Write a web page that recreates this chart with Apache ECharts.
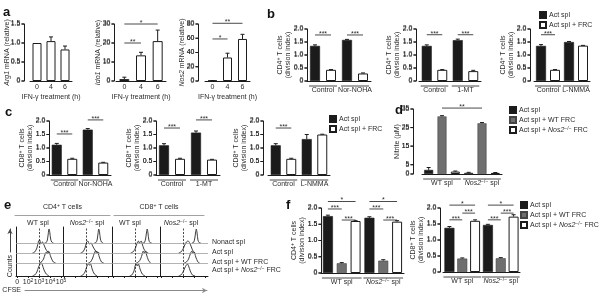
<!DOCTYPE html>
<html>
<head>
<meta charset="utf-8">
<script src="https://cdn.jsdelivr.net/npm/echarts@6/dist/echarts.min.js"></script>
<style>
  html, body { margin: 0; background: #fff; }
  #fig { width: 600px; height: 294px; }
</style>
</head>
<body>
<div id="fig"></div>
<script>
// ---- panel a: mRNA after IFN-g (relative) ----
const ifnHours = ['0', '4', '6'];
const arg1Mean = [1.0, 1.05, 0.83];
const arg1Err = [0, 0.11, 0.09];
const ido1Mean = [1.0, 13.5, 21.0];
const ido1Err = [1.0, 1.6, 5.8];
const nos2Mean = [0.4, 33, 59];
const nos2Err = [0.2, 6, 6.5];
const arg1Ticks = [0, 0.5, 1, 1.5];
const ido1Ticks = [0, 10, 20, 30];
const nos2Ticks = [0, 20, 40, 60, 80];
const ido1Sig = [[0, 1, 20, '**'], [0, 2, 30, '*']];
const nos2Sig = [[0, 2, 81, '**'], [0, 1, 59, '*']];

// ---- panels b, c: division index, bars per group = [Act spl, Act spl + FRC] ----
const bars4 = ['c0', 'c1', 'c2', 'c3'];
const divTicks = [0, 0.5, 1, 1.5, 2];
const groupsNor = ['Control', 'Nor-NOHA'];
const groupsMt = ['Control', '1-MT'];
const groupsNmma = ['Control', 'L-NMMA'];
const cd4Nor = [1.35, 0.43, 1.58, 0.29];
const cd4NorErr = [0.04, 0.01, 0.02, 0.02];
const cd4Mt = [1.35, 0.43, 1.57, 0.38];
const cd4MtErr = [0.04, 0.01, 0.04, 0.03];
const cd4Nmma = [1.35, 0.43, 1.5, 1.36];
const cd4NmmaErr = [0.05, 0.01, 0.02, 0.01];
const cd8Nor = [1.12, 0.6, 1.68, 0.46];
const cd8NorErr = [0.05, 0.02, 0.04, 0.01];
const cd8Mt = [1.1, 0.6, 1.57, 0.57];
const cd8MtErr = [0.06, 0.02, 0.06, 0.01];
const cd8Nmma = [1.1, 0.6, 1.33, 1.5];
const cd8NmmaErr = [0.06, 0.02, 0.17, 0.01];
const cd4NorSig = [[0, 1, 1.77, '***'], [2, 3, 1.77, '***']];
const cd4MtSig = [[0, 1, 1.78, '***'], [2, 3, 1.78, '***']];
const cd4NmmaSig = [[0, 1, 1.78, '***']];
const cd8NorSig = [[0, 1, 1.52, '***'], [2, 3, 2.04, '***']];
const cd8MtSig = [[0, 1, 1.74, '***'], [2, 3, 2.04, '***']];
const cd8NmmaSig = [[0, 1, 1.74, '***']];

// ---- panel d: nitrite, bars per group = [Act spl, + WT FRC, + Nos2-/- FRC] ----
const bars6 = ['c0', 'c1', 'c2', 'c3', 'c4', 'c5'];
const splGroups = ['WT spl', 'Nos2-/- spl'];
const nitrite = [2.2, 31, 1.3, 0.6, 27.3, 0.6];
const nitriteErr = [1.3, 0.4, 0.3, 0.3, 0.4, 0.2];
const nitriteTicks = [0, 5, 15, 25, 35];
const nitriteSig = [[1, 4, 35.5, '**']];

// ---- panel f ----
const fCd4 = [1.75, 0.3, 1.6, 1.7, 0.38, 1.58];
const fCd4Err = [0.03, 0.02, 0.01, 0.03, 0.03, 0.03];
const fCd8 = [1.38, 0.42, 1.6, 1.47, 0.43, 1.73];
const fCd8Err = [0.04, 0.02, 0.03, 0.02, 0.02, 0.06];
const fCd4Sig = [[0, 2, 2.2, '*'], [0, 1, 1.97, '***'], [1, 2, 1.63, '***'],
                 [3, 5, 2.2, '*'], [3, 4, 1.97, '***'], [4, 5, 1.63, '***']];
const fCd8Sig = [[0, 2, 2.09, '*'], [1, 2, 1.84, '***'], [0, 1, 1.63, '***'],
                 [3, 5, 2.09, '*'], [4, 5, 1.84, '***'], [3, 4, 1.63, '***']];

// ---- panel e: CFSE histograms [log10 CFSE, height], order nonact / act / +WT FRC / +Nos2 FRC ----
const eTracks = ['Nonact spl', 'Act spl', 'Act spl + WT FRC', 'Act spl + Nos2-/- FRC'];
const eBase = [33, 23, 13, 0];
const eLabelAt = [34, 24, 14, 6];
const cfseTicks = [1, 2, 3, 4, 5];
const cd4WtCurves = [
  [[3.5,0],[3.65,0.5],[3.75,3],[3.83,9],[3.9,14],[3.97,11],[4.05,4],[4.15,1],[4.3,0]],
  [[2.4,0],[2.6,1],[2.8,5],[2.95,12],[3.05,13],[3.15,9],[3.3,11],[3.45,8],[3.6,4],[3.8,1],[4.0,0]],
  [[3.0,0],[3.2,1],[3.4,4],[3.55,9],[3.65,11],[3.75,9],[3.85,12],[3.95,10],[4.1,5],[4.3,1],[4.5,0]],
  [[2.4,0],[2.6,1],[2.8,4],[2.95,9],[3.1,12],[3.2,13],[3.3,11],[3.45,6],[3.65,2],[3.9,0]]
];
const cd4NosCurves = [
  [[3.75,0],[3.9,0.5],[4.0,3],[4.08,9],[4.15,14],[4.22,11],[4.3,4],[4.4,1],[4.55,0]],
  [[2.5,0],[2.7,1],[2.9,5],[3.05,11],[3.15,12],[3.3,9],[3.45,10],[3.6,7],[3.8,3],[4.0,1],[4.2,0]],
  [[3.2,0],[3.4,1],[3.6,5],[3.75,10],[3.85,12],[3.95,10],[4.05,11],[4.2,6],[4.4,1],[4.6,0]],
  [[2.5,0],[2.7,1],[2.9,4],[3.05,9],[3.2,12],[3.3,11],[3.4,12],[3.55,7],[3.75,2],[4.0,0]]
];
const cd8WtCurves = [
  [[3.7,0],[3.85,0.5],[3.95,4],[4.03,10],[4.1,14],[4.17,10],[4.25,3],[4.35,0.5],[4.5,0]],
  [[2.6,0],[2.8,1],[3.0,4],[3.15,9],[3.3,12],[3.4,10],[3.55,12],[3.65,9],[3.8,4],[4.0,1],[4.2,0]],
  [[3.1,0],[3.3,1],[3.5,4],[3.65,9],[3.75,12],[3.85,10],[3.95,12],[4.05,8],[4.2,3],[4.4,0]],
  [[2.5,0],[2.7,1],[2.9,5],[3.0,10],[3.1,12],[3.2,10],[3.3,12],[3.45,7],[3.65,2],[3.9,0]]
];
const cd8NosCurves = [
  [[3.8,0],[3.95,0.5],[4.05,4],[4.13,10],[4.2,14],[4.27,10],[4.35,3],[4.45,0.5],[4.6,0]],
  [[2.6,0],[2.8,1],[3.0,4],[3.15,8],[3.3,11],[3.45,12],[3.6,10],[3.75,6],[3.9,2],[4.1,0]],
  [[3.1,0],[3.3,1],[3.5,4],[3.65,9],[3.8,12],[3.9,10],[4.0,11],[4.15,6],[4.35,1],[4.5,0]],
  [[2.6,0],[2.8,1],[3.0,4],[3.15,8],[3.3,11],[3.4,12],[3.5,10],[3.65,5],[3.85,1],[4.1,0]]
];

const FONT = '"Liberation Sans", Arial, sans-serif';
const INK = '#1c1c1c';
const TXT = '#2b2b2b';
const RICH = {
  t: { fontSize: 7, fontFamily: FONT, color: TXT, lineHeight: 8 },
  i: { fontSize: 7, fontFamily: FONT, color: TXT, lineHeight: 8, fontStyle: 'italic' },
  s: { fontSize: 5, fontFamily: FONT, color: TXT, lineHeight: 5, verticalAlign: 'top' }
};
const RICH_LABEL = {
  'Nos2-/- spl': '{i|Nos2}{s|−/−}{t| spl}',
  'Act spl + Nos2-/- FRC': '{t|Act spl + }{i|Nos2}{s|−/−}{t| FRC}'
};
const lab = s => RICH_LABEL[s] || '{t|' + s + '}';
const txt7 = { fontSize: 7, fontFamily: FONT, color: TXT };
const BAR_STYLE = [
  { color: '#1b1b1b', borderColor: INK, borderWidth: 0.6 },
  { color: '#6f6f6f', borderColor: '#444', borderWidth: 0.6 },
  { color: '#ffffff', borderColor: INK, borderWidth: 1 }
];
const CD4_NAME = '{t|CD4}{s|+}{t| T cells}\n{t|(division index)}';
const CD8_NAME = '{t|CD8}{s|+}{t| T cells}\n{t|(division index)}';

const grid = [], xAxis = [], yAxis = [], series = [];
const barPanels = [];

function addBarPanel(p) {
  const gi = grid.push({ left: p.rect[0], top: p.rect[1], width: p.rect[2], height: p.rect[3] }) - 1;
  const xi = xAxis.push({
    type: 'category', gridIndex: gi, data: p.cats,
    axisLine: { lineStyle: { color: INK, width: 1 } },
    axisTick: { show: false },
    axisLabel: p.groups ? { show: false } : Object.assign({ margin: 3, interval: 0 }, txt7),
    name: p.xName || '', nameLocation: 'middle', nameGap: 13, nameTextStyle: txt7
  }) - 1;
  if (p.groups) {
    xAxis.push({
      type: 'category', gridIndex: gi, data: p.groups, position: 'bottom', offset: 3,
      axisLine: { show: false }, axisTick: { show: false },
      axisLabel: { margin: 2, interval: 0, formatter: lab, rich: RICH }
    });
  }
  const off = p.yOffset || 0;
  const yi = yAxis.push({
    type: 'value', gridIndex: gi, min: 0, max: p.yMax, interval: p.yStep, offset: off,
    axisLine: { show: true, lineStyle: { color: INK, width: 1 } },
    axisTick: { show: false }, axisLabel: { show: false }, splitLine: { show: false },
    name: p.yName, nameLocation: 'middle', nameRotate: 90, nameGap: p.nameGap,
    nameTextStyle: { rich: RICH, align: 'center' }
  }) - 1;
  const fmt = v => (v === 0 ? '0' : (p.yStep < 1 ? v.toFixed(1) : String(v)));
  barPanels.push({ xi, yi, off, ticks: p.yTicks, fmt });

  // y ticks + tick labels, placed through the y scale (left edge = half a band left of category 0)
  series.push({
    type: 'custom', xAxisIndex: xi, yAxisIndex: yi, silent: true, clip: false, z: 6,
    data: p.yTicks.map(v => [0, v]),
    renderItem: (params, api) => {
      const v = p.yTicks[params.dataIndex];
      const c0 = api.coord([0, v]), c1 = api.coord([1, v]);
      const ax = c0[0] - (c1[0] - c0[0]) / 2 - off;
      const y = c0[1];
      return { type: 'group', children: [
        { type: 'line', shape: { x1: ax - 2.5, y1: y, x2: ax, y2: y }, style: { stroke: INK, lineWidth: 1 } },
        { type: 'text', x: ax - 3.5, y: y + 3,
          style: { text: fmt(v), fontSize: 7, fontFamily: FONT, fill: TXT, align: 'right', verticalAlign: 'bottom' } }
      ] };
    }
  });

  p.names.forEach((nm, c) => {
    series.push({
      type: 'bar', name: nm, xAxisIndex: xi, yAxisIndex: yi, barWidth: p.barW, barGap: '-100%',
      itemStyle: BAR_STYLE[p.style[c]], silent: true,
      data: p.vals.map((v, k) => (k % p.names.length === c ? v : '-'))
    });
  });

  // error bars (upper only)
  series.push({
    type: 'custom', xAxisIndex: xi, yAxisIndex: yi, silent: true, z: 4,
    data: p.vals.map((v, k) => [k, v, p.errs[k]]),
    renderItem: (params, api) => {
      const e = api.value(2);
      if (!e) return;
      const a = api.coord([api.value(0), api.value(1)]);
      const b = api.coord([api.value(0), api.value(1) + e]);
      return { type: 'group', children: [
        { type: 'line', shape: { x1: a[0], y1: a[1], x2: b[0], y2: b[1] }, style: { stroke: INK, lineWidth: 1 } },
        { type: 'line', shape: { x1: b[0] - 2, y1: b[1], x2: b[0] + 2, y2: b[1] }, style: { stroke: INK, lineWidth: 1 } }
      ] };
    }
  });

  // significance brackets
  if (p.sig) {
    series.push({
      type: 'custom', xAxisIndex: xi, yAxisIndex: yi, silent: true, z: 5, clip: false,
      data: p.sig.map(s => [s[0], s[2]]),
      renderItem: (params, api) => {
        const s = p.sig[params.dataIndex];
        const a = api.coord([s[0], s[2]]), b = api.coord([s[1], s[2]]);
        return { type: 'group', children: [
          { type: 'line', shape: { x1: a[0], y1: a[1], x2: b[0], y2: b[1] }, style: { stroke: INK, lineWidth: 0.8 } },
          { type: 'text', x: (a[0] + b[0]) / 2, y: a[1] + 2.5,
            style: { text: s[3], fontSize: 7, fontFamily: FONT, fill: TXT, align: 'center', verticalAlign: 'bottom' } }
        ] };
      }
    });
  }

  // group underline
  if (p.groups) {
    const per = p.cats.length / p.groups.length;
    const spans = p.groups.map((g, k) => [k * per, k * per + per - 1]);
    series.push({
      type: 'custom', xAxisIndex: xi, yAxisIndex: yi, silent: true, clip: false,
      data: spans.map(s => [s[0], 0]),
      renderItem: (params, api) => {
        const s = spans[params.dataIndex];
        const a = api.coord([s[0], 0]), b = api.coord([s[1], 0]);
        const y = a[1] + 5;
        return { type: 'line', shape: { x1: a[0] - p.barW / 2 - 1, y1: y, x2: b[0] + p.barW / 2 + 1, y2: y },
                 style: { stroke: INK, lineWidth: 0.8 } };
      }
    });
  }
}

function addFlowPanel(rect, curves, first, last) {
  const gi = grid.push({ left: rect[0], top: rect[1], width: rect[2], height: rect[3] }) - 1;
  const xi = xAxis.push({
    type: 'value', gridIndex: gi, min: 0.9, max: 0.9 + rect[2] / 11,
    axisLine: { lineStyle: { color: INK, width: 1 } },
    axisTick: { show: true, length: 2, customValues: cfseTicks, lineStyle: { color: INK } },
    splitLine: { show: false },
    axisLabel: { show: first, margin: 2, customValues: cfseTicks, rich: RICH,
                 formatter: v => (v === 1 ? '{t|0}' : '{t|10}{s|' + v + '}') }
  }) - 1;
  const yi = yAxis.push({
    type: 'value', gridIndex: gi, min: 0, max: rect[3],
    axisLine: { show: true, lineStyle: { color: INK, width: 1 } },
    axisTick: { show: false }, axisLabel: { show: false }, splitLine: { show: false }
  }) - 1;
  if (last) {
    yAxis.push({
      type: 'value', gridIndex: gi, min: 0, max: rect[3], position: 'right',
      axisLine: { show: false }, axisTick: { show: false }, splitLine: { show: false },
      axisLabel: { margin: 4, customValues: eLabelAt, rich: RICH,
                   formatter: v => lab(eTracks[eLabelAt.indexOf(v)]) }
    });
  }
  curves.forEach((pts, k) => {
    const s = {
      type: 'line', xAxisIndex: xi, yAxisIndex: yi, showSymbol: false, smooth: 0.3, silent: true,
      lineStyle: { color: '#2a2a2a', width: 0.9 },
      data: pts.map(q => [q[0], q[1] + eBase[k]])
    };
    if (eBase[k] > 0) {
      s.markLine = { silent: true, symbol: 'none', label: { show: false }, animation: false,
        lineStyle: { color: '#a0a0a0', width: 0.8, type: 'solid' }, data: [{ yAxis: eBase[k] }] };
    } else {
      s.markLine = { silent: true, symbol: 'none', label: { show: false }, animation: false,
        lineStyle: { color: INK, width: 0.8, type: [2, 1.5] }, data: [{ xAxis: 3 }] };
    }
    series.push(s);
  });
}

// header / arrow lines that are drawn as bare axes
function addLineAxis(rect, axis, isY) {
  const gi = grid.push({ left: rect[0], top: rect[1], width: rect[2], height: rect[3] }) - 1;
  const plain = { type: 'value', gridIndex: gi, show: false };
  const a = Object.assign({ type: 'value', gridIndex: gi, min: 0, max: 1,
    axisTick: { show: false }, axisLabel: { show: false }, splitLine: { show: false } }, axis);
  if (isY) { xAxis.push(plain); yAxis.push(a); } else { xAxis.push(a); yAxis.push(plain); }
}

const aName = g => '{i|' + g + '}{t| mRNA (relative)}';
addBarPanel({ rect: [30, 24, 42, 57], cats: ifnHours, vals: arg1Mean, errs: arg1Err, names: ['a1'], style: [2],
  yMax: 1.5, yStep: 0.5, yTicks: arg1Ticks, yOffset: 6, yName: aName('Arg1'), nameGap: 13, barW: 9,
  xName: 'IFN-γ treatment (h)' });
addBarPanel({ rect: [116, 24, 50, 57], cats: ifnHours, vals: ido1Mean, errs: ido1Err, names: ['a2'], style: [2],
  yMax: 30, yStep: 10, yTicks: ido1Ticks, yOffset: 2, yName: aName('Ido1'), nameGap: 12, barW: 10, sig: ido1Sig,
  xName: 'IFN-γ treatment (h)' });
addBarPanel({ rect: [205, 24, 45, 57], cats: ifnHours, vals: nos2Mean, errs: nos2Err, names: ['a3'], style: [2],
  yMax: 80, yStep: 20, yTicks: nos2Ticks, yOffset: 7, yName: aName('Nos2'), nameGap: 12, barW: 9, sig: nos2Sig,
  xName: 'IFN-γ treatment (h)' });

const frcNames = ['Act spl', 'Act spl + FRC'];
const wtNames = ['Act spl', 'Act spl + WT FRC', 'Act spl + Nos2-/- FRC'];
const di = { yMax: 2, yStep: 0.5, yTicks: divTicks, barW: 10, nameGap: 15 };
addBarPanel(Object.assign({ rect: [307, 29, 64, 52], cats: bars4, groups: groupsNor, vals: cd4Nor, errs: cd4NorErr,
  names: frcNames, style: [0, 2], yName: CD4_NAME, sig: cd4NorSig }, di));
addBarPanel(Object.assign({ rect: [419, 29, 62, 52], cats: bars4, groups: groupsMt, vals: cd4Mt, errs: cd4MtErr,
  names: frcNames, style: [0, 2], yOffset: 3, yName: CD4_NAME, sig: cd4MtSig }, di));
addBarPanel(Object.assign({ rect: [534, 29, 56, 52], cats: bars4, groups: groupsNmma, vals: cd4Nmma, errs: cd4NmmaErr,
  names: frcNames, style: [0, 2], yOffset: 4, yName: CD4_NAME, sig: cd4NmmaSig }, di));
addBarPanel(Object.assign({ rect: [49, 121, 62, 54], cats: bars4, groups: groupsNor, vals: cd8Nor, errs: cd8NorErr,
  names: frcNames, style: [0, 2], yName: CD8_NAME, sig: cd8NorSig }, di));
addBarPanel(Object.assign({ rect: [156, 121, 64, 54], cats: bars4, groups: groupsMt, vals: cd8Mt, errs: cd8MtErr,
  names: frcNames, style: [0, 2], yName: CD8_NAME, sig: cd8MtSig }, di));
addBarPanel(Object.assign({ rect: [268, 121, 62, 54], cats: bars4, groups: groupsNmma, vals: cd8Nmma, errs: cd8NmmaErr,
  names: frcNames, style: [0, 2], yOffset: 5, yName: CD8_NAME, sig: cd8NmmaSig }, di));

addBarPanel({ rect: [422, 109, 80, 65], cats: bars6, groups: splGroups, vals: nitrite, errs: nitriteErr,
  names: wtNames, style: [0, 1, 2], yMax: 35, yStep: 5, yTicks: nitriteTicks, yOffset: 9,
  yName: '{t|Nitrite (μM)}', nameGap: 12, barW: 9, sig: nitriteSig });

addBarPanel(Object.assign({ rect: [321, 208, 83, 65], cats: bars6, groups: splGroups, vals: fCd4, errs: fCd4Err,
  names: wtNames, style: [0, 1, 2], yName: CD4_NAME, sig: fCd4Sig }, di));
addBarPanel(Object.assign({ rect: [443, 208, 77, 64], cats: bars6, groups: splGroups, vals: fCd8, errs: fCd8Err,
  names: wtNames, style: [0, 1, 2], yOffset: 3, yName: CD8_NAME, sig: fCd8Sig }, di));

addFlowPanel([16, 227, 47, 49], cd4WtCurves, true, false);
addFlowPanel([63, 227, 49, 49], cd4NosCurves, false, false);
addFlowPanel([112, 227, 48, 49], cd8WtCurves, false, false);
addFlowPanel([160, 227, 48, 49], cd8NosCurves, false, true);

const grayLine = { lineStyle: { color: '#8a8a8a', width: 0.8 } };
addLineAxis([15, 214, 95, 1], { position: 'top', axisLine: grayLine,
  name: '{t|CD4}{s|+}{t| T cells}', nameLocation: 'middle', nameGap: 3, nameTextStyle: { rich: RICH } });
addLineAxis([114, 214, 90, 1], { position: 'top', axisLine: grayLine,
  name: '{t|CD8}{s|+}{t| T cells}', nameLocation: 'middle', nameGap: 3, nameTextStyle: { rich: RICH } });
addLineAxis([25, 290, 182, 1], { position: 'top',
  axisLine: { symbol: ['none', 'arrow'], symbolSize: [4, 5], lineStyle: { color: '#8a8a8a', width: 1 } },
  name: 'CFSE', nameLocation: 'start', nameGap: 4, nameTextStyle: txt7 });
addLineAxis([10, 229, 1, 23], { position: 'left',
  axisLine: { symbol: ['none', 'arrow'], symbolSize: [4, 5], lineStyle: { color: '#444', width: 1 } },
  name: 'Counts', nameLocation: 'start', nameRotate: 90, nameGap: 3, nameTextStyle: txt7 }, true);

const letter = (t, x, y) => ({ text: t, left: x, top: y, padding: 0,
  textStyle: { fontSize: 13, fontWeight: 'bold', fontFamily: FONT, color: '#111' } });
const sub = (t, x, y) => ({ text: t, left: x, top: y, padding: 0, textAlign: 'center',
  textStyle: { fontSize: 7, fontWeight: 'normal', fontFamily: FONT, color: TXT, rich: RICH } });

const legendBase = { orient: 'vertical', icon: 'rect', itemWidth: 6, itemHeight: 6, itemGap: 2,
  selectedMode: false, padding: 0, formatter: lab, textStyle: { rich: RICH, padding: [0, 0, 0, -2] } };

const chart = echarts.init(document.getElementById('fig'), null, { renderer: 'canvas' });
chart.setOption({
  animation: false,
  backgroundColor: '#fff',
  title: [
    letter('a', 3, 6), letter('b', 267, 8), letter('c', 5, 106), letter('d', 395, 104),
    letter('e', 4, 199), letter('f', 286, 199),
    sub('{t|WT spl}', 38, 219), sub(lab('Nos2-/- spl'), 87, 219),
    sub('{t|WT spl}', 130, 219), sub(lab('Nos2-/- spl'), 181, 219)
  ],
  legend: [
    Object.assign({ data: frcNames, left: 539, top: 11 }, legendBase),
    Object.assign({ data: frcNames, left: 329, top: 115 }, legendBase),
    Object.assign({ data: wtNames, left: 509, top: 106 }, legendBase),
    Object.assign({ data: wtNames, left: 520, top: 201 }, legendBase)
  ],
  grid, xAxis, yAxis, series
});

// y tick labels as graphic elements, positioned by converting tick values through each panel's axes
const tickGraphics = [];
barPanels.forEach(bp => {
  const finder = { xAxisIndex: bp.xi, yAxisIndex: bp.yi };
  bp.ticks.forEach(v => {
    const c0 = chart.convertToPixel(finder, [0, v]);
    const c1 = chart.convertToPixel(finder, [1, v]);
    if (!c0 || !c1) return;
    const ax = c0[0] - (c1[0] - c0[0]) / 2 - bp.off;
    const y = c0[1];
    tickGraphics.push({ type: 'line', z: 100, silent: true,
      shape: { x1: ax - 2.5, y1: y, x2: ax, y2: y }, style: { stroke: INK, lineWidth: 1 } });
    tickGraphics.push({ type: 'text', z: 100, silent: true, x: ax - 3.5, y: y,
      style: { text: bp.fmt(v), fontSize: 7, fontFamily: FONT, fill: TXT,
               align: 'right', verticalAlign: 'middle', textAlign: 'right', textVerticalAlign: 'middle' } });
  });
});
chart.setOption({ graphic: tickGraphics });
</script>
</body>
</html>
